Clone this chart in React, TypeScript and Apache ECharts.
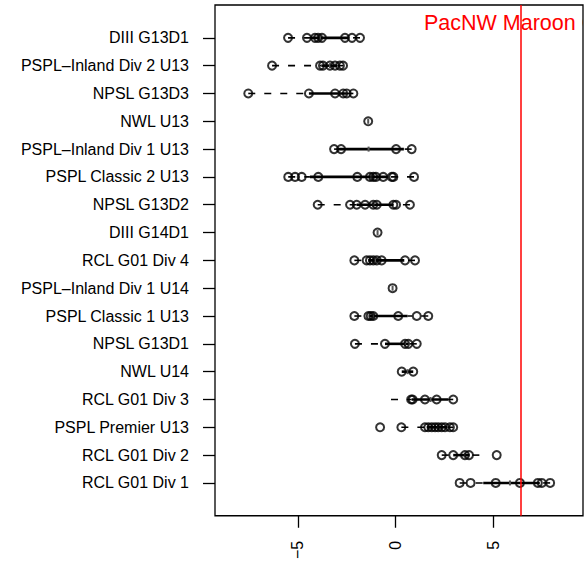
import React, { useEffect, useRef } from "react";
import * as echarts from "echarts";

// Categories, top to bottom
const categories = [
  "DIII G13D1",
  "PSPL–Inland Div 2 U13",
  "NPSL G13D3",
  "NWL U13",
  "PSPL–Inland Div 1 U13",
  "PSPL Classic 2 U13",
  "NPSL G13D2",
  "DIII G14D1",
  "RCL G01 Div 4",
  "PSPL–Inland Div 1 U14",
  "PSPL Classic 1 U13",
  "NPSL G13D1",
  "NWL U14",
  "RCL G01 Div 3",
  "PSPL Premier U13",
  "RCL G01 Div 2",
  "RCL G01 Div 1",
];

// Box-plot statistics per category (same order)
const whiskerLow = [-5.51, -6.33, -7.55, -1.4, -3.15, -5.5, -3.99, -0.92, -2.11, -0.15, -2.11, -2.08, 0.32, -0.23, 0.3, 2.37, 3.29];
const lowerHinge = [-4.33, -3.8, -4.44, -1.4, -2.97, -4.39, -1.99, -0.92, -1.4, -0.15, -1.33, -0.54, 0.32, 0.83, 1.6, 2.96, 4.5];
const medians = [-3.87, -3.36, -2.89, -1.4, -1.38, -1.23, -1.14, -0.92, -1.05, -0.15, -1.14, 0.49, 0.62, 1.8, 2.19, 3.56, 5.87];
const upperHinge = [-2.41, -2.98, -2.5, -1.4, 0.43, -0.41, -0.11, -0.92, 0.45, -0.15, 0.62, 0.66, 0.91, 2.7, 2.67, 3.8, 7.4];
const whiskerHigh = [-1.82, -2.69, -2.16, -1.4, 0.83, 0.95, 0.74, -0.92, 1.0, -0.15, 1.68, 1.09, 0.91, 2.96, 2.96, 4.3, 7.93];

// Individual points per category
const ptsDIIIG13D1 = [-5.51, -4.54, -4.13, -3.97, -3.77, -2.59, -2.23, -1.82];
const ptsInlandDiv2U13 = [-6.33, -3.87, -3.72, -3.36, -3.1, -2.85, -2.69];
const ptsNPSLG13D3 = [-7.55, -4.44, -3.1, -2.68, -2.5, -2.16];
const ptsNWLU13 = [-1.4];
const ptsInlandDiv1U13 = [-3.15, -2.79, 0.03, 0.83];
const ptsClassic2U13 = [-5.5, -5.15, -4.81, -3.96, -1.96, -1.31, -1.14, -1.0, -0.63, -0.19, -0.11, 0.95];
const ptsNPSLG13D2 = [-3.99, -2.33, -1.99, -1.56, -1.14, -0.96, -0.11, 0.03, 0.74];
const ptsDIIIG14D1 = [-0.92];
const ptsRCLDiv4 = [-2.11, -1.48, -1.31, -1.14, -0.96, -0.71, 0.49, 1.0];
const ptsInlandDiv1U14 = [-0.15];
const ptsClassic1U13 = [-2.11, -1.39, -1.27, -1.14, 0.14, 1.09, 1.68];
const ptsNPSLG13D1 = [-2.08, -0.54, 0.49, 0.66, 1.09];
const ptsNWLU14 = [0.32, 0.91];
const ptsRCLDiv3 = [0.8, 0.88, 1.51, 2.11, 2.96];
const ptsPremierU13 = [-0.79, 0.3, 1.51, 1.68, 1.86, 2.03, 2.19, 2.37, 2.54, 2.79, 2.96];
const ptsRCLDiv2 = [2.37, 2.96, 3.56, 3.77, 5.19];
const ptsRCLDiv1 = [3.29, 3.85, 5.14, 6.38, 7.3, 7.5, 7.93];

const rowPoints = [
  ptsDIIIG13D1, ptsInlandDiv2U13, ptsNPSLG13D3, ptsNWLU13, ptsInlandDiv1U13,
  ptsClassic2U13, ptsNPSLG13D2, ptsDIIIG14D1, ptsRCLDiv4, ptsInlandDiv1U14,
  ptsClassic1U13, ptsNPSLG13D1, ptsNWLU14, ptsRCLDiv3, ptsPremierU13,
  ptsRCLDiv2, ptsRCLDiv1,
];

const xTicks = [-5, 0, 5];
const xMin = -9.256;
const xMax = 9.615;
const yMin = -0.18;
const yMax = 18.18;

const refLineX = 6.44;
const refLabel = "PacNW Maroon G01";
const refLabelX = 1.46;
const refLabelY = 17.55;

const FONT = "'Liberation Sans', Arial, Helvetica, sans-serif";

export default function App() {
  const ref = useRef<HTMLDivElement>(null);

  useEffect(() => {
    if (!ref.current) return;
    const chart = echarts.init(ref.current, null, { renderer: "svg" });
    const n = categories.length;
    const yOf = (i: number) => n - i;

    const boxData = categories.map((_, i) => [lowerHinge[i], yOf(i)]);
    const scatterData: number[][] = [];
    rowPoints.forEach((arr, i) => arr.forEach((v) => scatterData.push([v, yOf(i)])));
    const yTickVals = categories.map((_, i) => yOf(i));

    chart.setOption({
      animation: false,
      grid: {
        left: 215, top: 5, width: 368, height: 514,
        show: true, borderColor: "#000", borderWidth: 1.3, backgroundColor: "transparent",
      },
      xAxis: {
        type: "value", min: xMin, max: xMax,
        splitLine: { show: false },
        axisLine: { show: false, onZero: false },
        axisTick: { show: true, length: 12, lineStyle: { color: "#000", width: 1.3 }, customValues: xTicks },
        axisLabel: {
          customValues: xTicks, rotate: 90, margin: 25, fontSize: 16, color: "#000", fontFamily: FONT,
          formatter: (v: number) => (v < 0 ? "\u2212" + Math.abs(v) : String(v)),
        },
      },
      yAxis: {
        type: "value", min: yMin, max: yMax,
        splitLine: { show: false },
        axisLine: { show: false, onZero: false },
        axisTick: { show: true, length: 12, lineStyle: { color: "#000", width: 1.3 }, customValues: yTickVals },
        axisLabel: {
          customValues: yTickVals, margin: 26, fontSize: 16, color: "#000", fontFamily: FONT,
          formatter: (v: number) => categories[n - Math.round(v)] ?? "",
        },
      },
      series: [
        {
          type: "custom",
          z: 2,
          encode: { x: 0, y: 1 },
          data: boxData,
          renderItem: (params: any, api: any) => {
            const i = params.dataIndex;
            const y = yOf(i);
            const pLo = api.coord([whiskerLow[i], y]);
            const xQ1 = api.coord([lowerHinge[i], y])[0];
            const xMed = api.coord([medians[i], y])[0];
            const xQ3 = api.coord([upperHinge[i], y])[0];
            const xHi = api.coord([whiskerHigh[i], y])[0];
            const yy = pLo[1];
            const dash = { stroke: "#000", lineWidth: 1.6, lineDash: [7, 9], fill: null };
            const children: any[] = [];
            if (Math.abs(xQ1 - pLo[0]) > 0.5) {
              children.push({ type: "line", shape: { x1: pLo[0], y1: yy, x2: xQ1, y2: yy }, style: dash });
            }
            if (Math.abs(xHi - xQ3) > 0.5) {
              children.push({ type: "line", shape: { x1: xHi, y1: yy, x2: xQ3, y2: yy }, style: dash });
            }
            if (Math.abs(xQ3 - xQ1) > 0.5) {
              children.push({ type: "line", shape: { x1: xQ1, y1: yy, x2: xQ3, y2: yy }, style: { stroke: "#000", lineWidth: 2.6 } });
            }
            children.push({ type: "line", shape: { x1: xMed, y1: yy - 2.5, x2: xMed, y2: yy + 2.5 }, style: { stroke: "#555", lineWidth: 2 } });
            return { type: "group", children };
          },
        },
        {
          type: "scatter",
          z: 3,
          symbol: "circle",
          symbolSize: 8,
          itemStyle: { color: "rgba(0,0,0,0)", borderColor: "#000", borderWidth: 2 },
          data: scatterData,
          markLine: {
            silent: true,
            symbol: ["none", "none"],
            label: { show: false },
            lineStyle: { color: "#ff0000", width: 1.5, type: "solid" },
            data: [{ xAxis: refLineX }],
            z: 5,
          },
        },
        {
          type: "custom",
          z: 6,
          clip: true,
          encode: { x: 0, y: 1 },
          data: [[refLabelX, refLabelY]],
          renderItem: (params: any, api: any) => {
            const p = api.coord([api.value(0), api.value(1)]);
            return {
              type: "text",
              x: p[0],
              y: p[1],
              style: {
                text: refLabel,
                fill: "#ff0000",
                fontSize: 21.5,
                fontFamily: FONT,
                align: "left",
                verticalAlign: "middle",
              },
            };
          },
        },
      ],
      graphic: [
        { type: "rect", z: 100, shape: { x: 584, y: 0, width: 10, height: 562 }, style: { fill: "#fff" } },
      ],
    });
    return () => chart.dispose();
  }, []);

  return (
    <div
      ref={ref}
      style={{ position: "fixed", left: 0, top: 0, width: 588, height: 562, background: "#fff" }}
    />
  );
}
